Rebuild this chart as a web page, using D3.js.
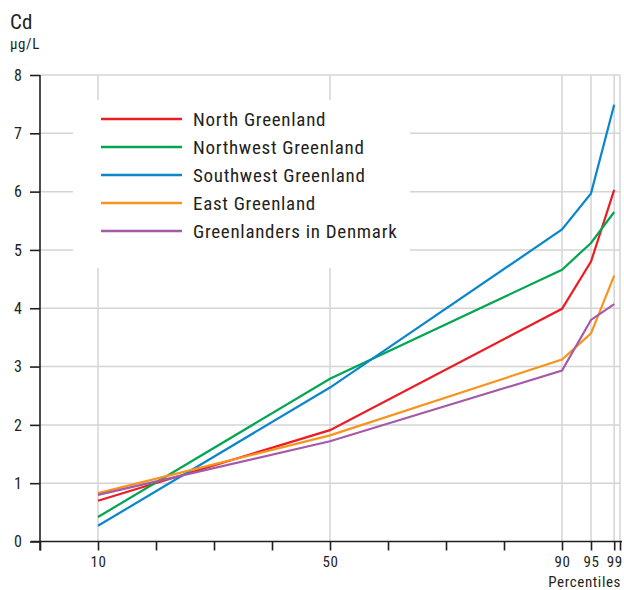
<!DOCTYPE html>
<html>
<head>
<meta charset="utf-8">
<script src="https://cdn.jsdelivr.net/npm/d3@7"></script>
<style>
  html, body { margin: 0; padding: 0; background: #fff; }
  svg { display: block; }
  text { font-family: "Liberation Sans Narrow", "Roboto Condensed", "Liberation Sans", sans-serif; fill: #231f20; }
</style>
</head>
<body>
<svg id="chart" width="624" height="590"></svg>
<script>
// Cadmium in blood, percentiles per region
const percentiles = [10, 50, 90, 95, 99];
const labeledTicks = [10, 50, 90, 95, 99];
const minorTicks = [0, 10, 20, 30, 40, 50, 60, 70, 80, 90, 95, 99, 100];
const gridX = [10, 50, 90, 95, 99, 100];
const yTicks = [0, 1, 2, 3, 4, 5, 6, 7, 8];

const seriesNames = ["North Greenland", "Northwest Greenland", "Southwest Greenland", "East Greenland", "Greenlanders in Denmark"];
const seriesColors = ["#ed1c24", "#00a651", "#0a86cc", "#f7941d", "#a55aa8"];
const north     = [0.70, 1.91, 3.99, 4.80, 6.03];
const northwest = [0.42, 2.79, 4.66, 5.12, 5.65];
const southwest = [0.27, 2.64, 5.35, 5.97, 7.49];
const east      = [0.83, 1.82, 3.12, 3.57, 4.56];
const denmark   = [0.80, 1.72, 2.93, 3.80, 4.07];
const seriesValues = [north, northwest, southwest, east, denmark];

const svg = d3.select("#chart");
const x = d3.scaleLinear().domain([0, 100]).range([40, 620]);
const y = d3.scaleLinear().domain([0, 8]).range([541.5, 75]);

// grid
const grid = svg.append("g").attr("stroke", "#d4d4d4").attr("stroke-width", 1.5);
grid.selectAll("line.h").data(yTicks.slice(1)).join("line")
  .attr("x1", x(0)).attr("x2", x(100))
  .attr("y1", d => y(d)).attr("y2", d => y(d));
grid.selectAll("line.v").data(gridX).join("line")
  .attr("x1", d => x(d)).attr("x2", d => x(d))
  .attr("y1", y(8)).attr("y2", y(0));

// legend panel (white box over the grid)
const legend = svg.append("g");
legend.append("rect").attr("x", 73).attr("y", 100).attr("width", 337).attr("height", 168).attr("fill", "#fff");

// series lines
const line = d3.line().x((d, i) => x(percentiles[i])).y(d => y(d));
svg.append("g").selectAll("path").data(seriesValues).join("path")
  .attr("d", line)
  .attr("fill", "none")
  .attr("stroke", (d, i) => seriesColors[i])
  .attr("stroke-width", 2.2)
  .attr("stroke-linejoin", "miter");

// legend entries
const entries = legend.selectAll("g.entry").data(seriesNames).join("g")
  .attr("transform", (d, i) => `translate(0, ${119 + i * 28})`);
entries.append("line").attr("x1", 101).attr("x2", 182).attr("y1", 0).attr("y2", 0)
  .attr("stroke", (d, i) => seriesColors[i]).attr("stroke-width", 2.4);
entries.append("text").attr("x", 193).attr("y", 7).attr("font-size", 19)
  .attr("letter-spacing", 0.7).text(d => d);

// y axis
const yAxis = svg.append("g").attr("transform", `translate(${x(0)},0)`)
  .call(d3.axisLeft(y).tickValues(yTicks).tickSize(10).tickPadding(8).tickFormat(d3.format("d")));
yAxis.select(".domain").attr("stroke", "#231f20").attr("stroke-width", 1.6).attr("d", `M0,${y(8)}V${y(0) + 9}`);
yAxis.selectAll(".tick line").attr("stroke", "#231f20").attr("stroke-width", 1.6);
yAxis.selectAll(".tick text").attr("font-size", 16).attr("font-family", null).attr("fill", "#231f20");

// x axis
const xAxis = svg.append("g").attr("transform", `translate(0,${y(0)})`)
  .call(d3.axisBottom(x).tickValues(minorTicks).tickSize(9).tickPadding(6)
    .tickFormat(d => labeledTicks.includes(d) ? d : ""));
xAxis.select(".domain").attr("stroke", "#231f20").attr("stroke-width", 1.6).attr("d", `M31,0H622`);
xAxis.selectAll(".tick line").attr("stroke", "#231f20").attr("stroke-width", 1.6);
xAxis.selectAll(".tick text").attr("font-size", 15).attr("letter-spacing", 0.5).attr("font-family", null).attr("fill", "#231f20");

// titles
svg.append("text").attr("x", 10).attr("y", 29).attr("font-size", 21).text("Cd");
svg.append("text").attr("x", 10).attr("y", 49).attr("font-size", 15).attr("letter-spacing", 0.6).text("µg/L");
svg.append("text").attr("x", 621).attr("y", 586.6).attr("text-anchor", "end").attr("font-size", 15)
  .attr("letter-spacing", 0.6).text("Percentiles");
</script>
</body>
</html>
